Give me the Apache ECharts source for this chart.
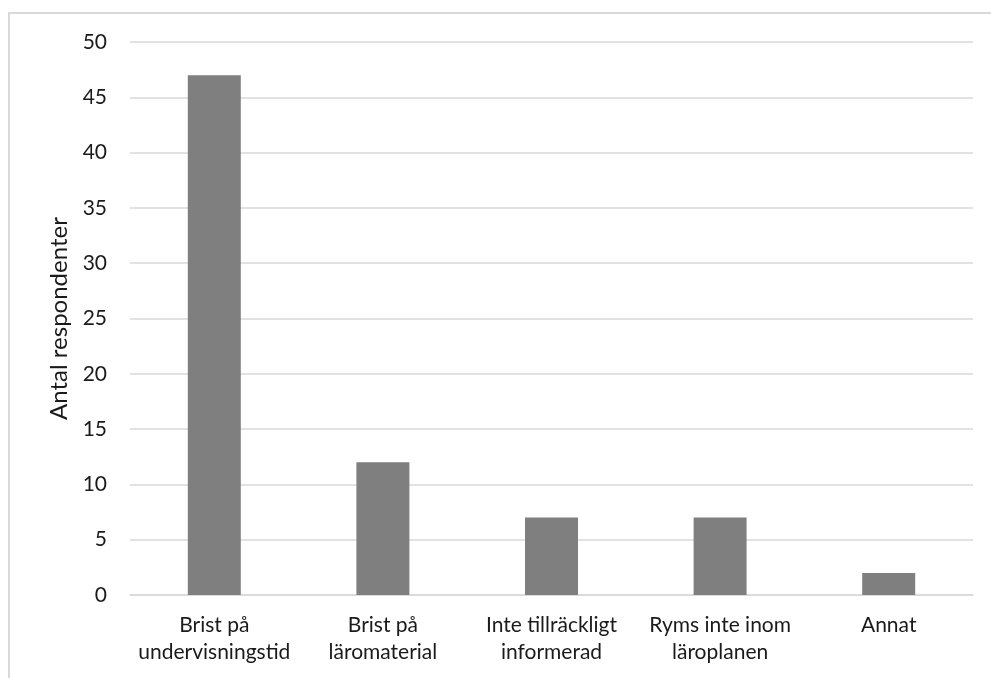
<!DOCTYPE html>
<html>
<head>
<meta charset="utf-8">
<script src="https://cdn.jsdelivr.net/npm/echarts@6/dist/echarts.min.js"></script>
<style>
html,body{margin:0;padding:0;background:#fff;}
#frame{position:absolute;left:8px;top:12px;width:990px;height:700px;border-left:2px solid #d9d9d9;border-top:2px solid #d9d9d9;box-sizing:border-box;}
#chart{position:absolute;left:0;top:0;width:991px;height:678px;}
</style>
</head>
<body>
<div id="frame"></div>
<div id="chart"></div>
<script>
const categories = ["Brist på\nundervisningstid", "Brist på\nläromaterial", "Inte tillräckligt\ninformerad", "Ryms inte inom\nläroplanen", "Annat"];
const values = [47, 12, 7, 7, 2];
const yTicks = {min: 0, max: 50, interval: 5};
const yTitle = "Antal respondenter";

const chart = echarts.init(document.getElementById('chart'), null, {renderer: 'canvas'});
const font = 'Lato, "Open Sans", sans-serif';
chart.setOption({
  animation: false,
  grid: {left: 130, right: 18, top: 42, bottom: 83, containLabel: false},
  xAxis: {
    type: 'category',
    data: categories,
    axisLine: {lineStyle: {color: '#d9d9d9', width: 1.5}},
    axisTick: {show: false},
    axisLabel: {color: '#1a1a1a', fontSize: 21, fontFamily: font, lineHeight: 27, margin: 17, interval: 0}
  },
  yAxis: {
    type: 'value',
    min: yTicks.min, max: yTicks.max, interval: yTicks.interval,
    name: yTitle,
    nameLocation: 'middle',
    nameGap: 55,
    nameRotate: 90,
    nameTextStyle: {color: '#1a1a1a', fontSize: 24, fontFamily: font},
    axisLine: {show: false},
    axisTick: {show: false},
    splitLine: {lineStyle: {color: '#d9d9d9', width: 1.5}},
    axisLabel: {color: '#1a1a1a', fontSize: 21, fontFamily: font, margin: 23}
  },
  series: [{
    type: 'bar',
    data: values,
    barWidth: 53,
    itemStyle: {color: '#7f7f7f'}
  }]
});
</script>
</body>
</html>
